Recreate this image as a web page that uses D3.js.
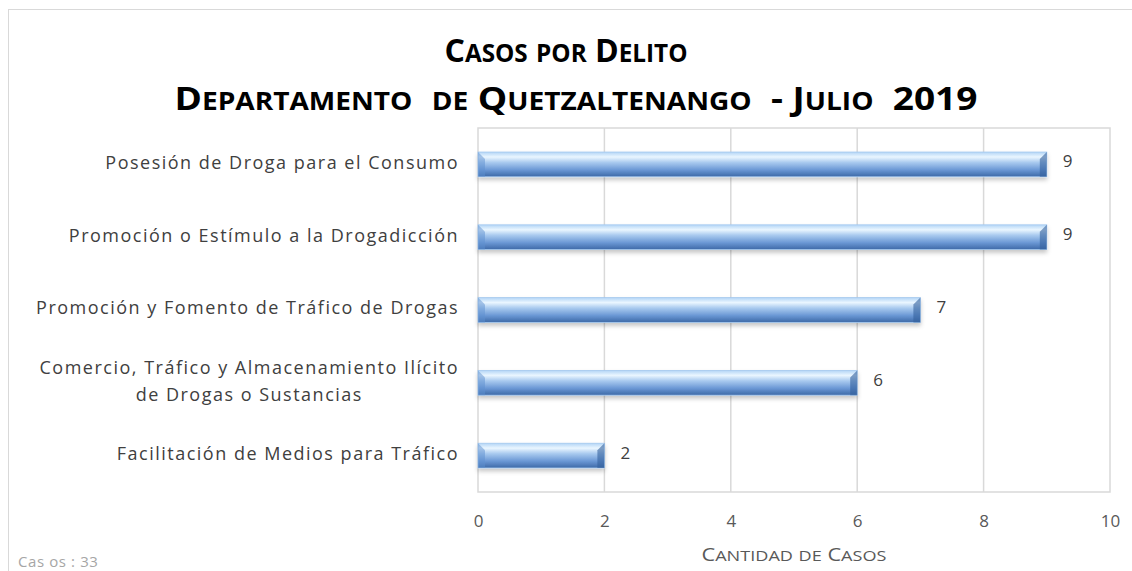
<!DOCTYPE html>
<html>
<head>
<meta charset="utf-8">
<script src="https://cdn.jsdelivr.net/npm/d3@7"></script>
<style>
  body { margin: 0; background: #fff; }
  svg { display: block; }
</style>
</head>
<body>
<svg width="1132" height="571"></svg>
<script>
// data
var categories = [
    ['Posesión de Droga para el Consumo'],
    ['Promoción o Estímulo a la Drogadicción'],
    ['Promoción y Fomento de Tráfico de Drogas'],
    ['Comercio, Tráfico y Almacenamiento Ilícito', 'de Drogas o Sustancias'],
    ['Facilitación de Medios para Tráfico']
];
var casos = [9, 9, 7, 6, 2];
var xTicks = [0, 2, 4, 6, 8, 10];
var titulo = ['Casos por Delito', 'Departamento  de Quetzaltenango  - Julio  2019'];
var tituloAncho = [243, 803];
var ejeTitulo = 'Cantidad de Casos';
var nota = 'Cas os : 33';

var svg = d3.select('svg');
var font = 'Open Sans, DejaVu Sans, sans-serif';

// fake small caps: lowercase runs drawn as smaller capitals
function smallCaps(sel, text, big, small) {
    var runs = text.match(/[a-záéíóúñ]+|[^a-záéíóúñ]+/g);
    runs.forEach(function(r) {
        var low = /[a-záéíóúñ]/.test(r);
        sel.append('tspan')
            .attr('font-size', low ? small : big)
            .text(low ? r.toUpperCase() : r);
    });
}

// outer frame
svg.append('rect')
    .attr('x', 8.5).attr('y', 9.5)
    .attr('width', 1140).attr('height', 580)
    .attr('fill', '#fff')
    .attr('stroke', '#d9d9d9');

var plotL = 478, plotR = 1110, plotT = 128, plotB = 492;

var x = d3.scaleLinear().domain([0, 10]).range([plotL, plotR]);
var y = d3.scaleBand()
    .domain(d3.range(casos.length))
    .range([plotT, plotB])
    .paddingInner(0.66)
    .paddingOuter(0.33);

// gradient for the bars
var defs = svg.append('defs');
var grad = defs.append('linearGradient')
    .attr('id', 'barGrad')
    .attr('x1', 0).attr('y1', 0).attr('x2', 0).attr('y2', 1);
grad.append('stop').attr('offset', '0%').attr('stop-color', '#b3d5f6');
grad.append('stop').attr('offset', '20%').attr('stop-color', '#eaf6ff');
grad.append('stop').attr('offset', '42%').attr('stop-color', '#a9caef');
grad.append('stop').attr('offset', '72%').attr('stop-color', '#6b98d5');
grad.append('stop').attr('offset', '100%').attr('stop-color', '#3d69a7');

var shadow = defs.append('filter').attr('id', 'shadow')
    .attr('x', '-5%').attr('y', '-20%').attr('width', '110%').attr('height', '160%');
shadow.append('feDropShadow')
    .attr('dx', 0).attr('dy', 3).attr('stdDeviation', 2)
    .attr('flood-color', '#000').attr('flood-opacity', 0.22);

// plot frame + gridlines
svg.append('rect')
    .attr('x', plotL).attr('y', plotT)
    .attr('width', plotR - plotL).attr('height', plotB - plotT)
    .attr('fill', 'none')
    .attr('stroke', '#d9d9d9')
    .attr('stroke-width', 1.5);

svg.selectAll('.grid')
    .data(xTicks.slice(1, -1))
    .enter()
    .append('line')
    .attr('class', 'grid')
    .attr('x1', function(d) { return x(d); })
    .attr('x2', function(d) { return x(d); })
    .attr('y1', plotT).attr('y2', plotB)
    .attr('stroke', '#d9d9d9')
    .attr('stroke-width', 1.5);

// x axis labels
var xAxis = d3.axisBottom(x).tickValues(xTicks).tickSize(0).tickPadding(23);
var gx = svg.append('g')
    .attr('transform', 'translate(0,' + plotB + ')')
    .call(xAxis);
gx.select('.domain').remove();
gx.selectAll('text')
    .attr('font-family', font)
    .attr('font-size', 17)
    .attr('fill', '#595959');

// bars
var bar = svg.selectAll('.bar')
    .data(casos)
    .enter()
    .append('g')
    .attr('class', 'bar');

bar.append('rect')
    .attr('x', x(0))
    .attr('y', function(d, i) { return y(i); })
    .attr('width', function(d) { return x(d) - x(0); })
    .attr('height', y.bandwidth())
    .attr('fill', 'url(#barGrad)')
    .attr('stroke', '#a4c8ef')
    .attr('stroke-width', 0.8)
    .attr('filter', 'url(#shadow)');

// bevel ends
bar.append('path')
    .attr('d', function(d, i) {
        var x0 = x(0), y0 = y(i), h = y.bandwidth(), b = 7;
        return 'M' + x0 + ',' + y0 + 'L' + (x0 + b) + ',' + (y0 + b) +
            'L' + (x0 + b) + ',' + (y0 + h) + 'L' + x0 + ',' + (y0 + h) + 'Z';
    })
    .attr('fill', '#5d8fd0')
    .attr('opacity', 0.5);
bar.append('path')
    .attr('d', function(d, i) {
        var x1 = x(d), y0 = y(i), h = y.bandwidth(), b = 7;
        return 'M' + x1 + ',' + y0 + 'L' + (x1 - b) + ',' + (y0 + b) +
            'L' + (x1 - b) + ',' + (y0 + h) + 'L' + x1 + ',' + (y0 + h) + 'Z';
    })
    .attr('fill', '#34609c')
    .attr('opacity', 0.6);

// value labels
bar.append('text')
    .attr('x', function(d) { return x(d) + 16; })
    .attr('y', function(d, i) { return y(i) + y.bandwidth() / 2 - 3; })
    .attr('dy', '0.35em')
    .attr('font-family', font)
    .attr('font-size', 17)
    .attr('fill', '#404040')
    .text(function(d) { return d; });

// category labels
var cat = svg.selectAll('.cat')
    .data(categories)
    .enter()
    .append('text')
    .attr('class', 'cat')
    .attr('text-anchor', 'middle')
    .attr('font-family', font)
    .attr('font-size', 18)
    .attr('letter-spacing', 1.5)
    .attr('fill', '#404040')
    .attr('transform', function(d, i) {
        var cy = y(i) + y.bandwidth() / 2 - 2 - (d.length - 1) * 13.5;
        return 'translate(0,' + cy + ')';
    });

cat.each(function(d) {
    var t = d3.select(this);
    var widest = 0;
    d.forEach(function(line, k) {
        var ts = t.append('tspan')
            .attr('x', 0)
            .attr('y', k * 27)
            .attr('dy', '0.35em')
            .text(line);
        widest = Math.max(widest, ts.node().getComputedTextLength());
    });
    // right edge of the widest line sits at x=458, lines centred
    t.selectAll('tspan').attr('x', 459 - widest / 2);
});

// title
svg.selectAll('.title')
    .data(titulo)
    .enter()
    .append('text')
    .attr('class', 'title')
    .attr('x', function(d, i) { return i ? 576 : 566; })
    .attr('y', function(d, i) { return 62 + i * 48; })
    .attr('text-anchor', 'middle')
    .attr('font-family', font)
    .attr('font-weight', 'bold')
    .attr('textLength', function(d, i) { return tituloAncho[i]; })
    .attr('lengthAdjust', 'spacingAndGlyphs')
    .style('white-space', 'pre')
    .attr('fill', '#000')
    .each(function(d) { smallCaps(d3.select(this), d, 33, 25); });

// axis title
var eje = svg.append('text')
    .attr('x', 794)
    .attr('y', 561)
    .attr('text-anchor', 'middle')
    .attr('font-family', font)
    .attr('textLength', 185)
    .attr('lengthAdjust', 'spacingAndGlyphs')
    .attr('fill', '#595959');
smallCaps(eje, ejeTitulo, 18, 15);

// note
svg.append('text')
    .attr('x', 18)
    .attr('y', 567)
    .attr('font-family', font)
    .attr('font-size', 15)
    .attr('letter-spacing', 0.6)
    .attr('fill', '#a6a6a6')
    .style('white-space', 'pre')
    .text(nota);
</script>
</body>
</html>
